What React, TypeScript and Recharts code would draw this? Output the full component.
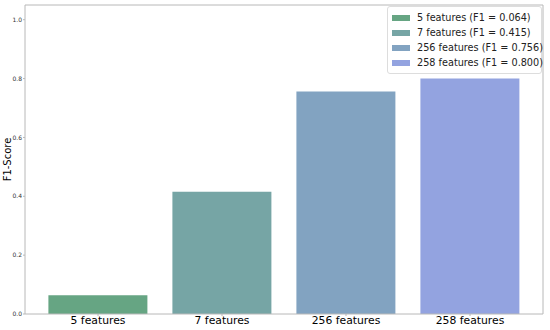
import { BarChart, Bar, XAxis, YAxis, Cell } from "recharts"

const categories = ["5 features", "7 features", "256 features", "258 features"]
const scores = [0.064, 0.415, 0.756, 0.8]
const legendLabels = [
    "5 features (F1 = 0.064)",
    "7 features (F1 = 0.415)",
    "256 features (F1 = 0.756)",
    "258 features (F1 = 0.800)"
]
const yTicks = [0, 0.2, 0.4, 0.6, 0.8, 1.0]
const colors = ["#66a583", "#76a5a5", "#82a3c1", "#93a3e0"]

const data = categories.map((name, i) => ({ name, score: scores[i] }))

const frame = "#b8b8b8"

function LegendBox() {
    return (
        <div style={{
            position: "absolute", left: 387, top: 6, width: 153, padding: "3px 0",
            border: "1px solid #dddddd", borderRadius: 3, background: "#fff",
            fontFamily: "DejaVu Sans", fontSize: 9.7, color: "#222", whiteSpace: "nowrap"
        }}>
            {legendLabels.map((l, i) => (
                <div key={l} style={{ display: "flex", alignItems: "center", height: 15 }}>
                    <span style={{ width: 18, height: 6, background: colors[i], marginLeft: 4, marginRight: 7, flexShrink: 0 }} />
                    <span>{l}</span>
                </div>
            ))}
        </div>
    )
}

export default function App() {
    return (
        <div style={{ position: "absolute", left: 0, top: 0 }}>
            <BarChart width={550} height={330} data={data}
                margin={{ top: 4, right: 6, bottom: 0, left: 0 }} barCategoryGap="10%">
                <XAxis dataKey="name" height={16} tickSize={2} tickMargin={0} interval={0}
                    padding={{ left: 11, right: 11 }}
                    stroke={frame} tick={{ fill: "#000", fontSize: 10.8, fontFamily: "DejaVu Sans" }} />
                <XAxis xAxisId="top" orientation="top" dataKey="name" height={1} tick={false} tickLine={false}
                    padding={{ left: 11, right: 11 }} stroke={frame} />
                <YAxis domain={[0, 1.05]} ticks={yTicks} width={25} tickSize={2} tickMargin={1}
                    stroke={frame} tickFormatter={(v: number) => v.toFixed(1)}
                    tick={{ fill: "#333", fontSize: 6, fontFamily: "DejaVu Sans" }}
                    label={{ value: "F1-Score", angle: -90, position: "insideLeft", offset: 7,
                        style: { fill: "#000", fontSize: 10, fontFamily: "DejaVu Sans", textAnchor: "middle" } }} />
                <YAxis yAxisId="right" orientation="right" width={1} tick={false} tickLine={false} stroke={frame} domain={[0, 1.05]} />
                <Bar dataKey="score" isAnimationActive={false}>
                    {data.map((d, i) => <Cell key={d.name} fill={colors[i]} />)}
                </Bar>
                <Bar dataKey="score" xAxisId="top" yAxisId="right" isAnimationActive={false} fill="none" legendType="none" />
            </BarChart>
            <LegendBox />
        </div>
    )
}
